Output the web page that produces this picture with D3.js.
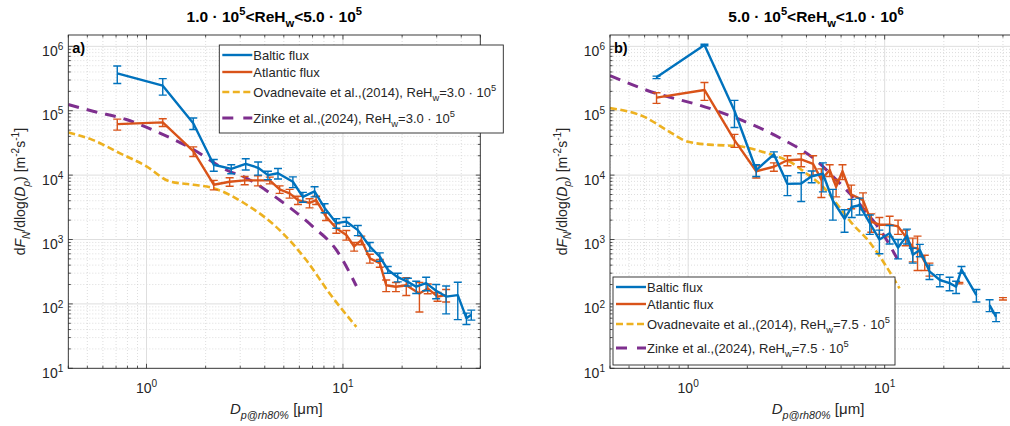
<!DOCTYPE html>
<html>
<head>
<meta charset="utf-8">
<script src="https://d3js.org/d3.v7.min.js"></script>
<style>
  body { margin: 0; background: #fff; }
  svg { display: block; font-family: "Liberation Sans", Arial, sans-serif; }
</style>
</head>
<body>
<div class="svg-container"></div>
<script>
// ---------- data ----------
const xTicks = [1, 10];
const yTicks = [1e1, 1e2, 1e3, 1e4, 1e5, 1e6];

// panel a)  1.0e5 < ReHw < 5.0e5
const balticA_x = [0.71, 1.21, 1.73, 2.2, 2.7, 3.2, 3.7, 4.15, 4.67, 5.56, 6.25, 7.17, 8.06, 9.25, 10.4, 11.9, 13.7, 15.4, 16.9, 19.0, 21.4, 23.6, 26.5, 29.8, 33.5, 38.4, 42.5, 45.0];
const balticA_y = [3.8e5, 2.45e5, 6.4e4, 1.45e4, 1.25e4, 1.5e4, 1.3e4, 1.0e4, 1.07e4, 7.9e3, 4.6e3, 5.6e3, 3.1e3, 1.8e3, 1.9e3, 1.4e3, 780, 540, 340, 260, 220, 185, 210, 160, 130, 137, 60, 68];
const balticA_e = [1.15e5, 7e4, 1.3e4, 3e3, 2e3, 3e3, 3e3, 1.5e3, 2e3, 1.5e3, 800, 1e3, 500, 300, 300, 250, 120, 80, 40, 40, 30, 40, 50, 40, 60, 80, 12, 12];

const atlanticA_x = [0.71, 1.21, 1.73, 2.2, 2.65, 3.16, 3.69, 4.24, 4.76, 5.35, 5.9, 6.76, 7.3, 8.2, 9.25, 10.4, 11.4, 12.4, 13.7, 15.4, 16.6, 18.6, 21.0, 24.5, 27.0, 30.3, 33.5];
const atlanticA_y = [6.2e4, 6.6e4, 2.35e4, 7.1e3, 7.9e3, 8.3e3, 8.3e3, 8.3e3, 6.0e3, 5.2e3, 4.1e3, 3.7e3, 4.1e3, 2.27e3, 1.5e3, 1.18e3, 780, 980, 510, 430, 195, 185, 195, 145, 174, 130, 137];
const atlanticA_e = [1.2e4, 9e3, 4e3, 1.2e3, 1.2e3, 1.2e3, 1.5e3, 1e3, 800, 800, 600, 600, 600, 300, 250, 200, 120, 150, 80, 60, 40, 30, 60, 70, 30, 20, 30];

const ovadA_x = [0.4, 0.535, 0.73, 1.0, 1.31, 1.73, 2.18, 3.22, 4.76, 6.5, 8.56, 11.7];
const ovadA_y = [4.6e4, 3.5e4, 2.2e4, 1.37e4, 8e3, 7.1e3, 6.3e3, 3.5e3, 1.4e3, 480, 145, 44];

const zinkeA_x = [0.4, 0.535, 0.79, 1.17, 1.73, 2.55, 3.22, 4.76, 7.0, 9.25, 11.7];
const zinkeA_y = [1.25e5, 9.8e4, 7.3e4, 4.5e4, 2.5e4, 1.2e4, 9e3, 4.1e3, 1.6e3, 690, 190];

// panel b)  5.0e5 < ReHw < 1.0e6   (null = gap)
const balticB_x = [0.69, 1.21, 1.72, 2.22, 2.73, 3.2, 3.76, 4.25, 4.85, 5.45, 6.25, 6.8, 7.45, 8.4, 9.4, 10.6, 11.7, 13.0, 13.9, 15.1, 16.9, 19.1, 21.4, 23.1, 24.6, 29.3, null, 34.2, 36.9];
const balticB_y = [3.3e5, 1.05e6, 1.0e5, 1.2e4, 2.1e4, 7.3e3, 7.4e3, 9.6e3, 1.05e4, 4.0e3, 2.1e3, 3.2e3, 3.4e3, 1.8e3, 1.0e3, 1.25e3, 750, 1.15e3, 580, 690, 320, 235, 210, 185, 340, 137, null, 96, 63];
const balticB_e = [1.5e4, 3e4, 4.5e4, 2.5e3, 2e3, 2.5e3, 3.5e3, 2e3, 5e3, 2e3, 800, 1e3, 1e3, 600, 400, 400, 250, 300, 150, 150, 80, 50, 50, 40, 40, 30, null, 20, 10];

const atlanticB_x = [0.69, 1.21, 1.72, 2.22, 2.73, 3.2, 3.76, 4.32, 4.76, 5.25, 5.66, 6.1, 6.76, 7.76, 8.55, 9.4, 10.6, 11.7, 12.8, 13.9, 14.7, 16.0, 16.9, null, 24.0, null, 40.0];
const atlanticB_y = [1.6e5, 2.1e5, 3.5e4, 1.15e4, 1.35e4, 1.7e4, 1.75e4, 1.5e4, 8.5e3, 1.2e4, 6.6e3, 1.15e4, 5.0e3, 4.1e3, 1.9e3, 1.7e3, 1.7e3, 1.6e3, 1.1e3, 750, 730, 450, 350, null, 210, null, 120];
const atlanticB_e = [3e4, 6.5e4, 8e3, 2.5e3, 2e3, 3e3, 4e3, 5e3, 4e3, 2.5e3, 2e3, 3e3, 2e3, 1.2e3, 600, 500, 600, 400, 300, 300, 400, 120, 80, null, 5, null, 5];

const ovadB_x = [0.4, 0.61, 0.77, 1.0, 1.33, 1.75, 2.5, 3.3, 4.1, 4.85, 5.7, 6.7, 8.4, 10.2, 11.9];
const ovadB_y = [1.1e5, 7.8e4, 5.1e4, 3.3e4, 2.95e4, 2.85e4, 2.2e4, 1.6e4, 1.0e4, 6.6e3, 3.6e3, 1.9e3, 900, 380, 174];

const zinkeB_x = [0.4, 0.61, 1.33, 2.92, 4.32, 5.9, 7.6, 10.2, 11.6];
const zinkeB_y = [3.5e5, 2.1e5, 1.05e5, 3.8e4, 1.85e4, 7.5e3, 3.3e3, 1.0e3, 500];

// ---------- styles ----------
const C = { baltic: '#0072BD', atlantic: '#D95319', ovad: '#EDB120', zinke: '#7E2F8E', axis: '#262626' };

const W = 1010, H = 426;
const svg = d3.select('.svg-container').append('svg').attr('width', W).attr('height', H);

// text with sub/superscripts: parts = [[text, kind]], kind: n, i, sub, sup, isub
function rich(sel, parts, fs) {
  let cur = 0;
  parts.forEach(([t, k]) => {
    let target = 0, size = fs, italic = false;
    if (k === 'sub' || k === 'isub') { target = 0.32 * fs; size = 0.72 * fs; }
    if (k === 'sup') { target = -0.42 * fs; size = 0.72 * fs; }
    if (k === 'i' || k === 'isub') italic = true;
    sel.append('tspan')
      .attr('dy', target - cur)
      .style('font-size', size + 'px')
      .style('font-style', italic ? 'italic' : 'normal')
      .text(t);
    cur = target;
  });
}

function zip(xs, ys) { return xs.map((x, i) => ({ x: x, y: ys[i] })); }

function drawPanel(opt) {
  const x0 = opt.left, x1 = opt.left + 412, y0 = 35, y1 = 368.3;
  const xScale = d3.scaleLog().domain([0.4, 50]).range([x0, x1]);
  const yScale = d3.scaleLog().domain([10, 1.5e6]).range([y1, y0]);

  const g = svg.append('g');
  const clipId = 'clip' + opt.id;
  svg.append('clipPath').attr('id', clipId)
    .append('rect').attr('x', x0).attr('y', y0).attr('width', x1 - x0).attr('height', y1 - y0);

  // grid
  const xMinor = [];
  [0.1, 1, 10].forEach(d => { for (let k = 2; k <= 9; k++) { const v = k * d; if (v >= 0.4 && v <= 50) xMinor.push(v); } });
  const yMinor = [];
  [10, 100, 1e3, 1e4, 1e5, 1e6].forEach(d => { for (let k = 2; k <= 9; k++) { const v = k * d; if (v <= 1.5e6) yMinor.push(v); } });

  const grid = g.append('g').attr('clip-path', `url(#${clipId})`);
  grid.selectAll('.xmin').data(xMinor).enter().append('line')
    .attr('x1', d => xScale(d)).attr('x2', d => xScale(d)).attr('y1', y0).attr('y2', y1)
    .attr('stroke', '#cfcfcf').attr('stroke-width', 0.7).attr('stroke-dasharray', '1,2');
  grid.selectAll('.ymin').data(yMinor).enter().append('line')
    .attr('y1', d => yScale(d)).attr('y2', d => yScale(d)).attr('x1', x0).attr('x2', x1)
    .attr('stroke', '#cfcfcf').attr('stroke-width', 0.7).attr('stroke-dasharray', '1,2');
  grid.selectAll('.xmaj').data(xTicks).enter().append('line')
    .attr('x1', d => xScale(d)).attr('x2', d => xScale(d)).attr('y1', y0).attr('y2', y1)
    .attr('stroke', '#dedede').attr('stroke-width', 1);
  grid.selectAll('.ymaj').data(yTicks).enter().append('line')
    .attr('y1', d => yScale(d)).attr('y2', d => yScale(d)).attr('x1', x0).attr('x2', x1)
    .attr('stroke', '#dedede').attr('stroke-width', 1);

  // data
  const plot = g.append('g').attr('clip-path', `url(#${clipId})`);
  const line = d3.line().defined(d => d.x != null && d.y != null).x(d => xScale(d.x)).y(d => yScale(d.y));
  const smooth = d3.line().curve(d3.curveMonotoneX).x(d => xScale(d.x)).y(d => yScale(d.y));

  plot.append('path').datum(zip(opt.ovad[0], opt.ovad[1])).attr('d', smooth)
    .attr('fill', 'none').attr('stroke', C.ovad).attr('stroke-width', 2.6).attr('stroke-dasharray', '7,3.5');
  plot.append('path').datum(zip(opt.zinke[0], opt.zinke[1])).attr('d', smooth)
    .attr('fill', 'none').attr('stroke', C.zinke).attr('stroke-width', 3).attr('stroke-dasharray', '11,8');

  function series(xs, ys, es, col) {
    const pts = xs.map((x, i) => ({ x: x, y: ys[i], e: es[i] }));
    const eb = plot.append('g');
    pts.filter(d => d.x != null && d.y != null).forEach(d => {
      const cx = xScale(d.x);
      const top = yScale(d.y + d.e);
      const bot = d.y - d.e > 0 ? yScale(d.y - d.e) : y1 + 10;
      eb.append('line').attr('x1', cx).attr('x2', cx).attr('y1', top).attr('y2', bot)
        .attr('stroke', col).attr('stroke-width', 1.4);
      [top, bot].forEach(yy => eb.append('line').attr('x1', cx - 4).attr('x2', cx + 4).attr('y1', yy).attr('y2', yy)
        .attr('stroke', col).attr('stroke-width', 1.4));
    });
    plot.append('path').datum(pts).attr('d', line)
      .attr('fill', 'none').attr('stroke', col).attr('stroke-width', 2.4).attr('stroke-linejoin', 'round');
  }
  series(opt.atlantic[0], opt.atlantic[1], opt.atlantic[2], C.atlantic);
  series(opt.baltic[0], opt.baltic[1], opt.baltic[2], C.baltic);

  // box and ticks
  const ax = g.append('g');
  ax.append('rect').attr('x', x0).attr('y', y0).attr('width', x1 - x0).attr('height', y1 - y0)
    .attr('fill', 'none').attr('stroke', C.axis).attr('stroke-width', 0.9);
  xTicks.concat(xMinor).forEach(v => {
    const L = xTicks.includes(v) ? 4.5 : 2.5, px = xScale(v);
    ax.append('line').attr('x1', px).attr('x2', px).attr('y1', y1).attr('y2', y1 - L).attr('stroke', C.axis).attr('stroke-width', 0.8);
    ax.append('line').attr('x1', px).attr('x2', px).attr('y1', y0).attr('y2', y0 + L).attr('stroke', C.axis).attr('stroke-width', 0.8);
  });
  yTicks.concat(yMinor).forEach(v => {
    const L = yTicks.includes(v) ? 4.5 : 2.5, py = yScale(v);
    ax.append('line').attr('x1', x0).attr('x2', x0 + L).attr('y1', py).attr('y2', py).attr('stroke', C.axis).attr('stroke-width', 0.8);
    ax.append('line').attr('x1', x1).attr('x2', x1 - L).attr('y1', py).attr('y2', py).attr('stroke', C.axis).attr('stroke-width', 0.8);
  });

  // tick labels
  xTicks.forEach(v => {
    const t = ax.append('text').attr('x', xScale(v)).attr('y', 393).attr('text-anchor', 'middle').attr('fill', C.axis);
    rich(t, [['10', 'n'], [String(Math.round(Math.log10(v))), 'sup']], 14);
  });
  yTicks.forEach(v => {
    const t = ax.append('text').attr('x', x0 - 5).attr('y', yScale(v) + 9.5).attr('text-anchor', 'end').attr('fill', C.axis);
    rich(t, [['10', 'n'], [String(Math.round(Math.log10(v))), 'sup']], 14);
  });

  // axis labels
  const xl = ax.append('text').attr('x', x0 + 208).attr('y', 414)
    .attr('text-anchor', 'middle').attr('fill', C.axis);
  rich(xl, [['D', 'i'], ['p@rh80%', 'isub'], [' [μm]', 'n']], 15);

  const yl = ax.append('text').attr('transform', `translate(${x0 - 43},${(y0 + y1) / 2 - 10}) rotate(-90)`)
    .attr('text-anchor', 'middle').attr('fill', C.axis);
  rich(yl, [['d', 'n'], ['F', 'i'], ['N', 'isub'], ['/dlog(', 'n'], ['D', 'i'], ['p', 'isub'], [') [m', 'n'], ['-2', 'sup'], ['s', 'n'], ['-1', 'sup'], [']', 'n']], 14);

  // title
  const tt = svg.append('text').attr('x', x0 + 206).attr('y', 22).attr('text-anchor', 'middle')
    .style('font-weight', 'bold').attr('fill', '#000');
  rich(tt, opt.title, 15.5);

  // panel letter
  svg.append('text').attr('x', x0 + 4).attr('y', 53).style('font-weight', 'bold').style('font-size', '14.5px')
    .attr('fill', '#000').text(opt.letter);

  // legend
  const lg = svg.append('g').attr('transform', `translate(${opt.legend[0]},${opt.legend[1]})`);
  lg.append('rect').attr('x', 0).attr('y', 0).attr('width', opt.legend[2]).attr('height', 88)
    .attr('fill', '#fff').attr('stroke', C.axis).attr('stroke-width', 0.9);
  const rows = [
    { col: C.baltic, w: 2.4, dash: null, dy: 10, lab: [['Baltic flux', 'n']] },
    { col: C.atlantic, w: 2.4, dash: null, dy: 27, lab: [['Atlantic flux', 'n']] },
    { col: C.ovad, w: 2.6, dash: '7,3.5', dy: 47, lab: [['Ovadnevaite et al.,(2014), ReH', 'n'], ['w', 'sub'], ['=' + opt.re + ' · 10', 'n'], ['5', 'sup']] },
    { col: C.zinke, w: 3, dash: '11,10', dy: opt.zdy, lab: [['Zinke et al.,(2024), ReH', 'n'], ['w', 'sub'], ['=' + opt.re + ' · 10', 'n'], ['5', 'sup']] }
  ];
  rows.forEach(r => {
    const ln = lg.append('line').attr('x1', 3).attr('x2', 33).attr('y1', r.dy).attr('y2', r.dy)
      .attr('stroke', r.col).attr('stroke-width', r.w);
    if (r.dash) ln.attr('stroke-dasharray', r.dash);
    const t = lg.append('text').attr('x', 34).attr('y', r.dy + 4.5).attr('fill', C.axis);
    rich(t, r.lab, 13);
  });
}

drawPanel({
  id: 'a', left: 68.3, letter: 'a)', re: '3.0', zdy: 73,
  title: [['1.0 · 10', 'n'], ['5', 'sup'], ['<ReH', 'n'], ['w', 'sub'], ['<5.0 · 10', 'n'], ['5', 'sup']],
  baltic: [balticA_x, balticA_y, balticA_e],
  atlantic: [atlanticA_x, atlanticA_y, atlanticA_e],
  ovad: [ovadA_x, ovadA_y], zinke: [zinkeA_x, zinkeA_y],
  legend: [219.3, 45, 284]
});

drawPanel({
  id: 'b', left: 610, letter: 'b)', re: '7.5', zdy: 71,
  title: [['5.0 · 10', 'n'], ['5', 'sup'], ['<ReH', 'n'], ['w', 'sub'], ['<1.0 · 10', 'n'], ['6', 'sup']],
  baltic: [balticB_x, balticB_y, balticB_e],
  atlantic: [atlanticB_x, atlanticB_y, atlanticB_e],
  ovad: [ovadB_x, ovadB_y], zinke: [zinkeB_x, zinkeB_y],
  legend: [613, 277, 282]
});
</script>
</body>
</html>
